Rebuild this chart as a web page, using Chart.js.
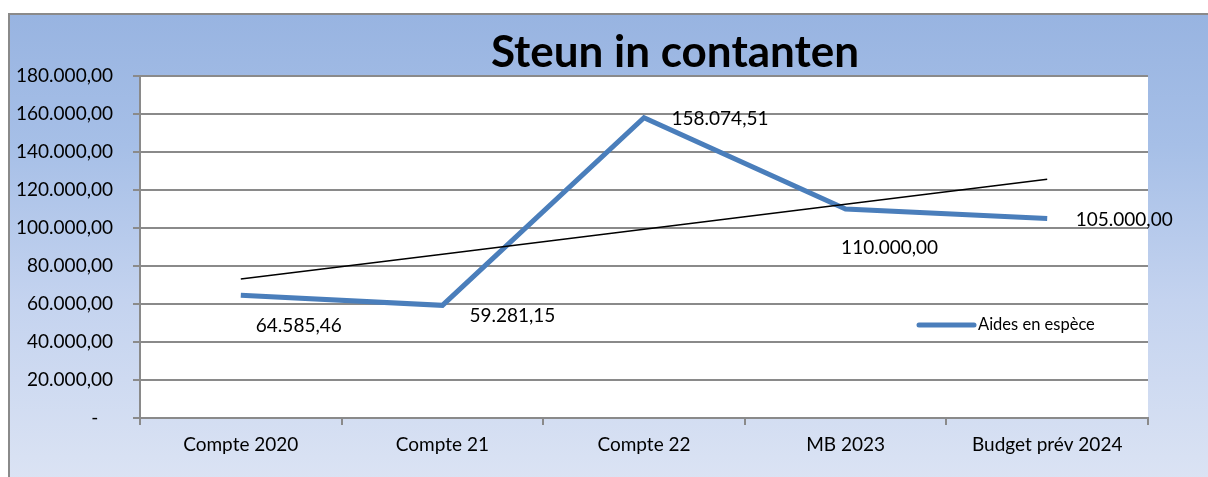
<!DOCTYPE html>
<html>
<head>
<meta charset="utf-8">
<script src="https://cdn.jsdelivr.net/npm/chart.js@4/dist/chart.umd.min.js"></script>
<style>
  html, body { margin: 0; padding: 0; width: 1208px; height: 477px; overflow: hidden; background: #fff; }
  #frame {
    position: absolute; left: 8px; top: 13px; width: 1260px; height: 520px;
    border: 2px solid #8a8a8a;
    background: linear-gradient(to bottom, #98b4e1 0%, #a6bfe7 25%, #c4d3ef 55%, #e2e8f5 100%);
  }
  #c { position: absolute; left: 0; top: 0; }
</style>
</head>
<body>
<div id="frame"></div>
<canvas id="c" width="1208" height="477"></canvas>
<script>
// Données du graphique
const categories = ['Compte 2020', 'Compte 21', 'Compte 22', 'MB 2023', 'Budget prév 2024'];
const aidesValues = [64585.46, 59281.15, 158074.51, 110000.00, 105000.00];
const trendValues = [73100, 86200, 99400, 112500, 125700]; // courbe de tendance
const seriesLabel = 'Aides en espèce';
const chartTitle = 'Steun in contanten';

const FONT = 'Lato, "Open Sans", sans-serif';

// Format 158.074,51
function fmt(v) {
  const parts = v.toFixed(2).split('.');
  return parts[0].replace(/\B(?=(\d{3})+(?!\d))/g, '.') + ',' + parts[1];
}

// Fond blanc de la zone de traçage
const plotBackground = {
  id: 'plotBackground',
  beforeDraw(chart) {
    const { ctx, chartArea: a } = chart;
    ctx.save();
    ctx.fillStyle = '#ffffff';
    ctx.fillRect(a.left, a.top, a.right - a.left, a.bottom - a.top);
    ctx.restore();
  }
};

// Titre centré comme dans Excel
const titlePlugin = {
  id: 'titlePlugin',
  afterDraw(chart) {
    const ctx = chart.ctx;
    ctx.save();
    ctx.font = 'bold 44px ' + FONT;
    ctx.fillStyle = '#000';
    ctx.textAlign = 'center';
    ctx.textBaseline = 'alphabetic';
    ctx.fillText(chartTitle, 675, 67);
    ctx.restore();
  }
};

// Étiquettes de données (décalages manuels comme dans Excel)
const labelOffsets = [[58, 31], [70, 11], [76, 1], [44, 39], [77, 1]];
const dataLabels = {
  id: 'dataLabels',
  afterDatasetsDraw(chart) {
    const ctx = chart.ctx;
    const meta = chart.getDatasetMeta(1);
    ctx.save();
    ctx.font = '19px ' + FONT;
    ctx.fillStyle = '#000';
    ctx.textAlign = 'center';
    ctx.textBaseline = 'middle';
    meta.data.forEach((pt, i) => {
      ctx.fillText(fmt(aidesValues[i]), pt.x + labelOffsets[i][0], pt.y + labelOffsets[i][1]);
    });
    ctx.restore();
  }
};

// Légende à l'intérieur de la zone de traçage
const innerLegend = {
  id: 'innerLegend',
  afterDraw(chart) {
    const { ctx, chartArea: a } = chart;
    const x = a.right - 229, y = a.top + 249;
    ctx.save();
    ctx.strokeStyle = '#4a7ebb';
    ctx.lineWidth = 5;
    ctx.lineCap = 'round';
    ctx.beginPath();
    ctx.moveTo(x, y);
    ctx.lineTo(x + 55, y);
    ctx.stroke();
    ctx.font = '16.5px ' + FONT;
    ctx.fillStyle = '#000';
    ctx.textBaseline = 'middle';
    ctx.fillText(seriesLabel, x + 59, y);
    ctx.restore();
  }
};

new Chart(document.getElementById('c'), {
  type: 'line',
  data: {
    labels: categories,
    datasets: [
      {
        label: 'Tendance',
        data: trendValues,
        borderColor: '#000000',
        borderWidth: 1.5,
        pointRadius: 0,
        tension: 0,
        order: 0
      },
      {
        label: seriesLabel,
        data: aidesValues,
        borderColor: '#4a7ebb',
        borderWidth: 5,
        pointRadius: 0,
        tension: 0,
        order: 1
      }
    ]
  },
  options: {
    responsive: false,
    animation: false,
    layout: { padding: { top: 76, right: 60, left: 0, bottom: 0 } },
    plugins: {
      legend: { display: false },
      title: { display: false },
      tooltip: { enabled: false }
    },
    scales: {
      x: {
        offset: true,
        grid: { offset: true, drawOnChartArea: false, drawTicks: true, tickLength: 7, color: '#8a8a8a', lineWidth: 2 },
        border: { color: '#8a8a8a', width: 2 },
        ticks: { color: '#000', padding: 8, font: { family: FONT, size: 19 }, maxRotation: 0 },
        afterFit(scale) { scale.height = 59; }
      },
      y: {
        min: 0,
        max: 180000,
        grid: { color: '#8a8a8a', lineWidth: 2, tickLength: 7 },
        border: { color: '#8a8a8a', width: 2 },
        ticks: {
          stepSize: 20000,
          color: '#000',
          padding: 20,
          font: { family: FONT, size: 19 },
          callback: v => v === 0 ? '-   ' : fmt(v)
        },
        afterFit(scale) { scale.width = 140; }
      }
    }
  },
  plugins: [plotBackground, titlePlugin, dataLabels, innerLegend]
});
</script>
</body>
</html>
